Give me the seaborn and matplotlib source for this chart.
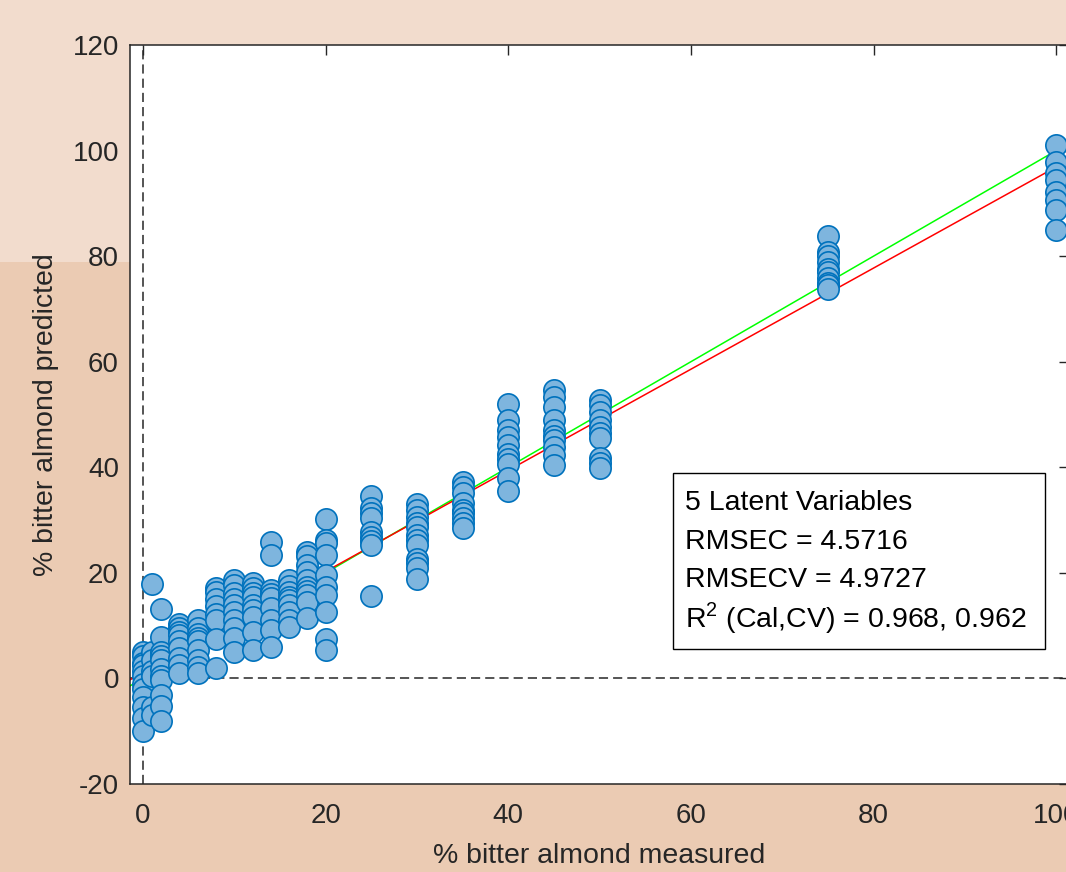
import pandas as pd
import seaborn as sns
import matplotlib.pyplot as plt
from matplotlib.patches import Rectangle

# Valores: % medido (nível) e % previsto por amostra
pred_0 = [5.0, 4.2, 3.0, 2.5, 1.5, 0.5, -1.0, -2.0, -3.5, -5.5, -7.5, -10.0]
pred_1 = [17.8, 5.0, 3.5, 1.5, 0.5, -5.5, -7.0]
pred_2 = [13.2, 7.9, 5.0, 4.2, 3.5, 1.8, 0.5, -0.3, -3.2, -5.2, -8.0]
pred_4 = [10.4, 9.6, 8.8, 8.2, 7.0, 5.7, 3.8, 2.5, 1.0]
pred_6 = [11.1, 9.5, 8.5, 7.6, 7.0, 5.4, 3.5, 2.2, 1.0]
pred_8 = [17.2, 16.4, 15.0, 13.8, 12.3, 11.1, 7.5, 1.9]
pred_10 = [18.6, 17.7, 16.1, 15.0, 13.9, 12.6, 11.1, 9.5, 7.6, 5.1]
pred_12 = [18.0, 17.1, 16.2, 15.5, 13.9, 13.0, 11.7, 8.8, 5.4]
pred_14 = [25.8, 23.4, 16.7, 16.0, 15.2, 13.3, 11.1, 9.2, 6.0]
pred_16 = [18.6, 17.5, 16.4, 15.5, 14.8, 13.9, 12.6, 11.1, 9.8]
pred_18 = [24.0, 23.1, 21.5, 20.2, 18.6, 17.4, 16.5, 15.8, 14.5, 11.4]
pred_20 = [30.2, 26.2, 25.6, 23.4, 19.6, 17.4, 15.8, 12.6, 7.4, 5.4]
pred_25 = [34.6, 32.2, 31.3, 30.3, 27.8, 26.8, 26.0, 25.2, 15.6]
pred_30 = [33.0, 31.9, 30.6, 29.5, 28.7, 27.2, 26.2, 25.3, 22.7, 21.8, 20.9, 18.8]
pred_35 = [37.3, 36.3, 35.1, 33.2, 32.0, 31.3, 30.3, 29.4, 28.5]
pred_40 = [52.0, 48.9, 47.0, 45.8, 44.2, 42.6, 41.5, 40.7, 37.9, 35.5]
pred_45 = [54.6, 53.4, 51.5, 48.9, 47.0, 46.0, 45.2, 43.9, 42.3, 40.4]
pred_50 = [52.7, 51.8, 50.5, 48.9, 47.6, 46.5, 45.5, 41.7, 40.8, 39.8]
pred_75 = [83.8, 80.8, 80.0, 78.9, 77.5, 77.0, 75.8, 75.0, 74.5, 73.8]
pred_100 = [101.0, 97.9, 95.7, 94.4, 92.2, 90.6, 88.7, 84.9]

niveis = [0, 1, 2, 4, 6, 8, 10, 12, 14, 16, 18, 20, 25, 30, 35, 40, 45, 50, 75, 100]
previstos = [pred_0, pred_1, pred_2, pred_4, pred_6, pred_8, pred_10, pred_12,
             pred_14, pred_16, pred_18, pred_20, pred_25, pred_30, pred_35,
             pred_40, pred_45, pred_50, pred_75, pred_100]

# Reta ajustada (vermelha) e estatísticas do modelo
ajuste_inclinacao = 0.958
ajuste_intercepto = 1.1
textos_caixa = ["5 Latent Variables", "RMSEC = 4.5716", "RMSECV = 4.9727",
                r"R$^{2}$ (Cal,CV) = 0.968, 0.962"]

tabela = pd.concat(
    [pd.DataFrame({"medido": n, "previsto": p}) for n, p in zip(niveis, previstos)],
    ignore_index=True)

sns.set_theme(style="white")
plt.rcParams["font.family"] = ["Liberation Sans", "DejaVu Sans"]
plt.rcParams["mathtext.fontset"] = "custom"
plt.rcParams["mathtext.rm"] = "Liberation Sans"
plt.rcParams["axes.unicode_minus"] = False
cor_eixo = "#262626"
tam_fonte = 20.5

fig = plt.figure(figsize=(10.66, 8.72), dpi=100, facecolor="#EBCBB3")
fig.add_artist(Rectangle((0, 1 - 262 / 872), 1, 262 / 872, transform=fig.transFigure,
                         facecolor="#F2DCCD", edgecolor="none", zorder=0))

ax = fig.add_axes([130 / 1066, 88 / 872, 939 / 1066, 739 / 872])
ax.set_facecolor("white")
xmin, xmax = -1.42, 101.4
ax.set_xlim(xmin, xmax)
ax.set_ylim(-20, 120)

# Linhas tracejadas em zero, reta 1:1 (verde) e reta ajustada (vermelha)
ax.axvline(0, color=cor_eixo, lw=1.1, ls=(0, (6, 3.3)), zorder=1)
ax.axhline(0, color=cor_eixo, lw=1.1, ls=(0, (6, 3.3)), zorder=1)
ax.plot([xmin, xmax], [xmin, xmax], color="#00FF00", lw=1.1, zorder=2)
ax.plot([xmin, xmax], [ajuste_intercepto + ajuste_inclinacao * xmin,
                       ajuste_intercepto + ajuste_inclinacao * xmax],
        color="#FF0000", lw=1.1, zorder=2)

sns.scatterplot(data=tabela, x="medido", y="previsto", ax=ax, s=235,
                color="#7EB5DE", edgecolor="#0072BD", linewidth=1.2, zorder=3)

ax.set_xticks([0, 20, 40, 60, 80, 100])
ax.set_yticks([-20, 0, 20, 40, 60, 80, 100, 120])
ax.tick_params(direction="in", length=7, width=1, top=True, right=True,
               labelsize=20, colors=cor_eixo, pad=8)
ax.tick_params(axis="x", pad=14)
for sp in ax.spines.values():
    sp.set_color(cor_eixo)
    sp.set_linewidth(1.1)

ax.set_xlabel("% bitter almond measured", fontsize=tam_fonte, color=cor_eixo)
ax.set_ylabel("% bitter almond predicted", fontsize=tam_fonte, color=cor_eixo)
ax.xaxis.set_label_coords(0.5, -0.08)
ax.yaxis.set_label_coords(-0.076, 0.5)

# Caixa de texto com as estatísticas
ax.add_patch(Rectangle((58.05, 5.57), 98.8 - 58.05, 38.9 - 5.57, facecolor="white",
                       edgecolor="black", lw=1, zorder=4))
for texto, yb in zip(textos_caixa, [32.0, 24.5, 17.3, 9.6]):
    ax.text(59.3, yb, texto, fontsize=tam_fonte, color="black", va="baseline", zorder=5)

fig.savefig("out.png", dpi=100, facecolor=fig.get_facecolor())
